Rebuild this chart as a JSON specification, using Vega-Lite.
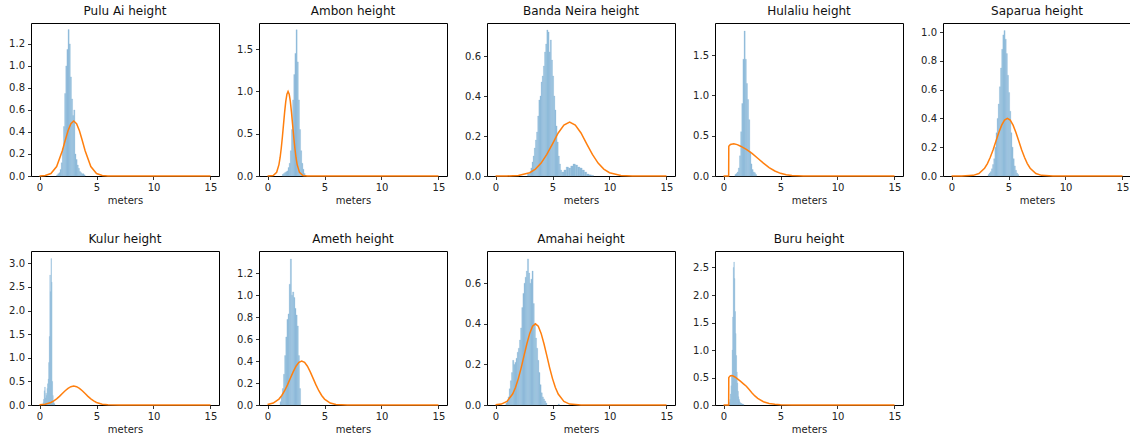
{
  "$schema": "https://vega.github.io/schema/vega-lite/v6.json",
  "padding": {"left": 8, "top": 4, "right": 0, "bottom": 0},
  "background": "white",
  "datasets": {
    "hist": [
      {"site":"Pulu Ai","x":1.5,"x2":1.6,"y":0.01},{"site":"Pulu Ai","x":1.6,"x2":1.7,"y":0.02},{"site":"Pulu Ai","x":1.7,"x2":1.8,"y":0.03},{"site":"Pulu Ai","x":1.8,"x2":1.9,"y":0.06},{"site":"Pulu Ai","x":1.9,"x2":2.0,"y":0.12},{"site":"Pulu Ai","x":2.0,"x2":2.1,"y":0.25},{"site":"Pulu Ai","x":2.1,"x2":2.2,"y":0.45},{"site":"Pulu Ai","x":2.2,"x2":2.3,"y":0.75},{"site":"Pulu Ai","x":2.3,"x2":2.4,"y":1.0},{"site":"Pulu Ai","x":2.4,"x2":2.5,"y":1.15},{"site":"Pulu Ai","x":2.5,"x2":2.6,"y":1.33},{"site":"Pulu Ai","x":2.6,"x2":2.7,"y":1.2},{"site":"Pulu Ai","x":2.7,"x2":2.8,"y":0.9},{"site":"Pulu Ai","x":2.8,"x2":2.9,"y":0.7},{"site":"Pulu Ai","x":2.9,"x2":3.0,"y":0.55},{"site":"Pulu Ai","x":3.0,"x2":3.1,"y":0.6},{"site":"Pulu Ai","x":3.1,"x2":3.2,"y":0.2},{"site":"Pulu Ai","x":3.2,"x2":3.3,"y":0.15},{"site":"Pulu Ai","x":3.3,"x2":3.4,"y":0.1},{"site":"Pulu Ai","x":3.4,"x2":3.5,"y":0.07},{"site":"Pulu Ai","x":3.5,"x2":3.6,"y":0.04},{"site":"Pulu Ai","x":3.6,"x2":3.7,"y":0.03},{"site":"Pulu Ai","x":3.7,"x2":3.8,"y":0.02},{"site":"Pulu Ai","x":3.8,"x2":3.9,"y":0.02},{"site":"Pulu Ai","x":3.9,"x2":4.0,"y":0.01},
      {"site":"Ambon","x":1.3,"x2":1.4,"y":0.02},{"site":"Ambon","x":1.4,"x2":1.5,"y":0.03},{"site":"Ambon","x":1.5,"x2":1.6,"y":0.04},{"site":"Ambon","x":1.6,"x2":1.7,"y":0.05},{"site":"Ambon","x":1.7,"x2":1.8,"y":0.06},{"site":"Ambon","x":1.8,"x2":1.9,"y":0.1},{"site":"Ambon","x":1.9,"x2":2.0,"y":0.15},{"site":"Ambon","x":2.0,"x2":2.1,"y":0.3},{"site":"Ambon","x":2.1,"x2":2.2,"y":0.55},{"site":"Ambon","x":2.2,"x2":2.3,"y":0.9},{"site":"Ambon","x":2.3,"x2":2.4,"y":1.2},{"site":"Ambon","x":2.4,"x2":2.5,"y":1.45},{"site":"Ambon","x":2.5,"x2":2.6,"y":1.73},{"site":"Ambon","x":2.6,"x2":2.7,"y":1.35},{"site":"Ambon","x":2.7,"x2":2.8,"y":0.9},{"site":"Ambon","x":2.8,"x2":2.9,"y":0.55},{"site":"Ambon","x":2.9,"x2":3.0,"y":0.3},{"site":"Ambon","x":3.0,"x2":3.1,"y":0.15},{"site":"Ambon","x":3.1,"x2":3.2,"y":0.08},{"site":"Ambon","x":3.2,"x2":3.3,"y":0.03},
      {"site":"Banda Neira","x":2.8,"x2":3.0,"y":0.01},{"site":"Banda Neira","x":3.0,"x2":3.1,"y":0.02},{"site":"Banda Neira","x":3.1,"x2":3.2,"y":0.04},{"site":"Banda Neira","x":3.2,"x2":3.3,"y":0.07},{"site":"Banda Neira","x":3.3,"x2":3.4,"y":0.1},{"site":"Banda Neira","x":3.4,"x2":3.5,"y":0.14},{"site":"Banda Neira","x":3.5,"x2":3.6,"y":0.18},{"site":"Banda Neira","x":3.6,"x2":3.7,"y":0.22},{"site":"Banda Neira","x":3.7,"x2":3.8,"y":0.3},{"site":"Banda Neira","x":3.8,"x2":3.9,"y":0.38},{"site":"Banda Neira","x":3.9,"x2":4.0,"y":0.4},{"site":"Banda Neira","x":4.0,"x2":4.1,"y":0.47},{"site":"Banda Neira","x":4.1,"x2":4.2,"y":0.5},{"site":"Banda Neira","x":4.2,"x2":4.3,"y":0.55},{"site":"Banda Neira","x":4.3,"x2":4.4,"y":0.62},{"site":"Banda Neira","x":4.4,"x2":4.5,"y":0.66},{"site":"Banda Neira","x":4.5,"x2":4.6,"y":0.73},{"site":"Banda Neira","x":4.6,"x2":4.7,"y":0.72},{"site":"Banda Neira","x":4.7,"x2":4.8,"y":0.62},{"site":"Banda Neira","x":4.8,"x2":4.9,"y":0.68},{"site":"Banda Neira","x":4.9,"x2":5.0,"y":0.58},{"site":"Banda Neira","x":5.0,"x2":5.1,"y":0.5},{"site":"Banda Neira","x":5.1,"x2":5.2,"y":0.4},{"site":"Banda Neira","x":5.2,"x2":5.3,"y":0.33},{"site":"Banda Neira","x":5.3,"x2":5.4,"y":0.25},{"site":"Banda Neira","x":5.4,"x2":5.5,"y":0.17},{"site":"Banda Neira","x":5.5,"x2":5.6,"y":0.1},{"site":"Banda Neira","x":5.6,"x2":5.7,"y":0.06},{"site":"Banda Neira","x":5.7,"x2":5.8,"y":0.03},{"site":"Banda Neira","x":5.8,"x2":5.9,"y":0.02},{"site":"Banda Neira","x":5.9,"x2":6.0,"y":0.02},{"site":"Banda Neira","x":6.0,"x2":6.2,"y":0.03},{"site":"Banda Neira","x":6.2,"x2":6.4,"y":0.045},{"site":"Banda Neira","x":6.4,"x2":6.6,"y":0.04},{"site":"Banda Neira","x":6.6,"x2":6.8,"y":0.05},{"site":"Banda Neira","x":6.8,"x2":7.0,"y":0.06},{"site":"Banda Neira","x":7.0,"x2":7.2,"y":0.055},{"site":"Banda Neira","x":7.2,"x2":7.4,"y":0.045},{"site":"Banda Neira","x":7.4,"x2":7.6,"y":0.04},{"site":"Banda Neira","x":7.6,"x2":7.8,"y":0.03},{"site":"Banda Neira","x":7.8,"x2":8.0,"y":0.02},{"site":"Banda Neira","x":8.0,"x2":8.2,"y":0.01},{"site":"Banda Neira","x":8.2,"x2":8.4,"y":0.006},{"site":"Banda Neira","x":8.4,"x2":8.6,"y":0.003},
      {"site":"Hulaliu","x":1.0,"x2":1.1,"y":0.02},{"site":"Hulaliu","x":1.1,"x2":1.2,"y":0.03},{"site":"Hulaliu","x":1.2,"x2":1.3,"y":0.05},{"site":"Hulaliu","x":1.3,"x2":1.4,"y":0.1},{"site":"Hulaliu","x":1.4,"x2":1.5,"y":0.25},{"site":"Hulaliu","x":1.5,"x2":1.6,"y":0.55},{"site":"Hulaliu","x":1.6,"x2":1.7,"y":0.9},{"site":"Hulaliu","x":1.7,"x2":1.8,"y":1.45},{"site":"Hulaliu","x":1.8,"x2":1.9,"y":1.8},{"site":"Hulaliu","x":1.9,"x2":2.0,"y":1.45},{"site":"Hulaliu","x":2.0,"x2":2.1,"y":1.15},{"site":"Hulaliu","x":2.1,"x2":2.2,"y":0.95},{"site":"Hulaliu","x":2.2,"x2":2.3,"y":0.7},{"site":"Hulaliu","x":2.3,"x2":2.4,"y":0.3},{"site":"Hulaliu","x":2.4,"x2":2.5,"y":0.15},{"site":"Hulaliu","x":2.5,"x2":2.6,"y":0.08},{"site":"Hulaliu","x":2.6,"x2":2.7,"y":0.05},{"site":"Hulaliu","x":2.7,"x2":2.8,"y":0.04},{"site":"Hulaliu","x":2.8,"x2":2.9,"y":0.02},
      {"site":"Saparua","x":3.2,"x2":3.3,"y":0.01},{"site":"Saparua","x":3.3,"x2":3.4,"y":0.02},{"site":"Saparua","x":3.4,"x2":3.5,"y":0.03},{"site":"Saparua","x":3.5,"x2":3.6,"y":0.05},{"site":"Saparua","x":3.6,"x2":3.7,"y":0.08},{"site":"Saparua","x":3.7,"x2":3.8,"y":0.12},{"site":"Saparua","x":3.8,"x2":3.9,"y":0.2},{"site":"Saparua","x":3.9,"x2":4.0,"y":0.3},{"site":"Saparua","x":4.0,"x2":4.1,"y":0.4},{"site":"Saparua","x":4.1,"x2":4.2,"y":0.5},{"site":"Saparua","x":4.2,"x2":4.3,"y":0.62},{"site":"Saparua","x":4.3,"x2":4.4,"y":0.75},{"site":"Saparua","x":4.4,"x2":4.5,"y":0.88},{"site":"Saparua","x":4.5,"x2":4.6,"y":0.98},{"site":"Saparua","x":4.6,"x2":4.7,"y":1.01},{"site":"Saparua","x":4.7,"x2":4.8,"y":0.95},{"site":"Saparua","x":4.8,"x2":4.9,"y":0.85},{"site":"Saparua","x":4.9,"x2":5.0,"y":0.7},{"site":"Saparua","x":5.0,"x2":5.1,"y":0.58},{"site":"Saparua","x":5.1,"x2":5.2,"y":0.45},{"site":"Saparua","x":5.2,"x2":5.3,"y":0.3},{"site":"Saparua","x":5.3,"x2":5.4,"y":0.2},{"site":"Saparua","x":5.4,"x2":5.5,"y":0.12},{"site":"Saparua","x":5.5,"x2":5.6,"y":0.07},{"site":"Saparua","x":5.6,"x2":5.7,"y":0.04},{"site":"Saparua","x":5.7,"x2":5.8,"y":0.02},{"site":"Saparua","x":5.8,"x2":5.9,"y":0.01},
      {"site":"Kulur","x":0.3,"x2":0.35,"y":0.05},{"site":"Kulur","x":0.35,"x2":0.4,"y":0.12},{"site":"Kulur","x":0.4,"x2":0.45,"y":0.3},{"site":"Kulur","x":0.45,"x2":0.5,"y":0.38},{"site":"Kulur","x":0.5,"x2":0.55,"y":0.15},{"site":"Kulur","x":0.55,"x2":0.6,"y":0.25},{"site":"Kulur","x":0.6,"x2":0.65,"y":0.2},{"site":"Kulur","x":0.65,"x2":0.7,"y":0.35},{"site":"Kulur","x":0.7,"x2":0.75,"y":0.45},{"site":"Kulur","x":0.75,"x2":0.8,"y":0.55},{"site":"Kulur","x":0.8,"x2":0.85,"y":0.9},{"site":"Kulur","x":0.85,"x2":0.9,"y":1.45},{"site":"Kulur","x":0.9,"x2":0.95,"y":2.75},{"site":"Kulur","x":0.95,"x2":1.0,"y":2.4},{"site":"Kulur","x":1.0,"x2":1.05,"y":3.1},{"site":"Kulur","x":1.05,"x2":1.1,"y":2.6},{"site":"Kulur","x":1.1,"x2":1.15,"y":0.5},{"site":"Kulur","x":1.15,"x2":1.2,"y":0.2},{"site":"Kulur","x":1.2,"x2":1.25,"y":0.08},{"site":"Kulur","x":1.25,"x2":1.3,"y":0.04},{"site":"Kulur","x":1.3,"x2":1.35,"y":0.02},
      {"site":"Ameth","x":1.1,"x2":1.2,"y":0.03},{"site":"Ameth","x":1.2,"x2":1.3,"y":0.08},{"site":"Ameth","x":1.3,"x2":1.4,"y":0.15},{"site":"Ameth","x":1.4,"x2":1.5,"y":0.28},{"site":"Ameth","x":1.5,"x2":1.6,"y":0.45},{"site":"Ameth","x":1.6,"x2":1.7,"y":0.62},{"site":"Ameth","x":1.7,"x2":1.8,"y":0.78},{"site":"Ameth","x":1.8,"x2":1.9,"y":0.83},{"site":"Ameth","x":1.9,"x2":2.0,"y":1.1},{"site":"Ameth","x":2.0,"x2":2.1,"y":1.33},{"site":"Ameth","x":2.1,"x2":2.2,"y":1.0},{"site":"Ameth","x":2.2,"x2":2.3,"y":1.03},{"site":"Ameth","x":2.3,"x2":2.4,"y":0.98},{"site":"Ameth","x":2.4,"x2":2.5,"y":0.88},{"site":"Ameth","x":2.5,"x2":2.6,"y":0.82},{"site":"Ameth","x":2.6,"x2":2.7,"y":0.72},{"site":"Ameth","x":2.7,"x2":2.8,"y":0.45},{"site":"Ameth","x":2.8,"x2":2.9,"y":0.15},
      {"site":"Amahai","x":0.9,"x2":1.0,"y":0.01},{"site":"Amahai","x":1.0,"x2":1.1,"y":0.02},{"site":"Amahai","x":1.1,"x2":1.2,"y":0.04},{"site":"Amahai","x":1.2,"x2":1.3,"y":0.08},{"site":"Amahai","x":1.3,"x2":1.4,"y":0.12},{"site":"Amahai","x":1.4,"x2":1.5,"y":0.16},{"site":"Amahai","x":1.5,"x2":1.6,"y":0.22},{"site":"Amahai","x":1.6,"x2":1.7,"y":0.2},{"site":"Amahai","x":1.7,"x2":1.8,"y":0.21},{"site":"Amahai","x":1.8,"x2":1.9,"y":0.23},{"site":"Amahai","x":1.9,"x2":2.0,"y":0.26},{"site":"Amahai","x":2.0,"x2":2.1,"y":0.28},{"site":"Amahai","x":2.1,"x2":2.2,"y":0.32},{"site":"Amahai","x":2.2,"x2":2.3,"y":0.38},{"site":"Amahai","x":2.3,"x2":2.4,"y":0.48},{"site":"Amahai","x":2.4,"x2":2.5,"y":0.55},{"site":"Amahai","x":2.5,"x2":2.6,"y":0.6},{"site":"Amahai","x":2.6,"x2":2.7,"y":0.63},{"site":"Amahai","x":2.7,"x2":2.8,"y":0.66},{"site":"Amahai","x":2.8,"x2":2.9,"y":0.72},{"site":"Amahai","x":2.9,"x2":3.0,"y":0.65},{"site":"Amahai","x":3.0,"x2":3.1,"y":0.6},{"site":"Amahai","x":3.1,"x2":3.2,"y":0.62},{"site":"Amahai","x":3.2,"x2":3.3,"y":0.66},{"site":"Amahai","x":3.3,"x2":3.4,"y":0.5},{"site":"Amahai","x":3.4,"x2":3.5,"y":0.4},{"site":"Amahai","x":3.5,"x2":3.6,"y":0.33},{"site":"Amahai","x":3.6,"x2":3.7,"y":0.28},{"site":"Amahai","x":3.7,"x2":3.8,"y":0.22},{"site":"Amahai","x":3.8,"x2":3.9,"y":0.16},{"site":"Amahai","x":3.9,"x2":4.0,"y":0.1},{"site":"Amahai","x":4.0,"x2":4.1,"y":0.06},{"site":"Amahai","x":4.1,"x2":4.2,"y":0.04},{"site":"Amahai","x":4.2,"x2":4.3,"y":0.03},{"site":"Amahai","x":4.3,"x2":4.4,"y":0.02},{"site":"Amahai","x":4.4,"x2":4.5,"y":0.01},{"site":"Amahai","x":5.5,"x2":5.6,"y":0.005},
      {"site":"Buru","x":0.5,"x2":0.55,"y":0.05},{"site":"Buru","x":0.55,"x2":0.6,"y":0.1},{"site":"Buru","x":0.6,"x2":0.65,"y":0.2},{"site":"Buru","x":0.65,"x2":0.7,"y":0.35},{"site":"Buru","x":0.7,"x2":0.75,"y":0.55},{"site":"Buru","x":0.75,"x2":0.8,"y":1.0},{"site":"Buru","x":0.8,"x2":0.85,"y":1.6},{"site":"Buru","x":0.85,"x2":0.9,"y":2.5},{"site":"Buru","x":0.9,"x2":0.95,"y":2.6},{"site":"Buru","x":0.95,"x2":1.0,"y":2.3},{"site":"Buru","x":1.0,"x2":1.05,"y":1.7},{"site":"Buru","x":1.05,"x2":1.1,"y":1.3},{"site":"Buru","x":1.1,"x2":1.15,"y":0.9},{"site":"Buru","x":1.15,"x2":1.2,"y":0.6},{"site":"Buru","x":1.2,"x2":1.25,"y":0.4},{"site":"Buru","x":1.25,"x2":1.3,"y":0.25},{"site":"Buru","x":1.3,"x2":1.35,"y":0.15},{"site":"Buru","x":1.35,"x2":1.4,"y":0.1},{"site":"Buru","x":1.4,"x2":1.45,"y":0.06},{"site":"Buru","x":1.45,"x2":1.5,"y":0.04},{"site":"Buru","x":1.5,"x2":1.6,"y":0.03},{"site":"Buru","x":1.6,"x2":1.7,"y":0.02},{"site":"Buru","x":1.7,"x2":1.8,"y":0.01}
    ],
    "curve": [
      {"site":"Pulu Ai","x":0,"y":0.0004},{"site":"Pulu Ai","x":0.5,"y":0.0038},{"site":"Pulu Ai","x":1,"y":0.022},{"site":"Pulu Ai","x":1.5,"y":0.086},{"site":"Pulu Ai","x":2,"y":0.229},{"site":"Pulu Ai","x":2.25,"y":0.322},{"site":"Pulu Ai","x":2.5,"y":0.411},{"site":"Pulu Ai","x":2.75,"y":0.476},{"site":"Pulu Ai","x":3,"y":0.5},{"site":"Pulu Ai","x":3.25,"y":0.476},{"site":"Pulu Ai","x":3.5,"y":0.411},{"site":"Pulu Ai","x":3.75,"y":0.322},{"site":"Pulu Ai","x":4,"y":0.229},{"site":"Pulu Ai","x":4.5,"y":0.086},{"site":"Pulu Ai","x":5,"y":0.022},{"site":"Pulu Ai","x":5.5,"y":0.0038},{"site":"Pulu Ai","x":6,"y":0.0004},{"site":"Pulu Ai","x":7,"y":0},{"site":"Pulu Ai","x":15,"y":0},
      {"site":"Ambon","x":0,"y":0},{"site":"Ambon","x":0.5,"y":0.005},{"site":"Ambon","x":0.8,"y":0.044},{"site":"Ambon","x":1.0,"y":0.135},{"site":"Ambon","x":1.1,"y":0.216},{"site":"Ambon","x":1.2,"y":0.325},{"site":"Ambon","x":1.3,"y":0.458},{"site":"Ambon","x":1.4,"y":0.607},{"site":"Ambon","x":1.5,"y":0.755},{"site":"Ambon","x":1.6,"y":0.882},{"site":"Ambon","x":1.7,"y":0.969},{"site":"Ambon","x":1.8,"y":1.0},{"site":"Ambon","x":1.9,"y":0.969},{"site":"Ambon","x":2.0,"y":0.882},{"site":"Ambon","x":2.1,"y":0.755},{"site":"Ambon","x":2.2,"y":0.607},{"site":"Ambon","x":2.3,"y":0.458},{"site":"Ambon","x":2.4,"y":0.325},{"site":"Ambon","x":2.5,"y":0.216},{"site":"Ambon","x":2.6,"y":0.135},{"site":"Ambon","x":2.8,"y":0.044},{"site":"Ambon","x":3.1,"y":0.005},{"site":"Ambon","x":3.5,"y":0.0001},{"site":"Ambon","x":15,"y":0},
      {"site":"Banda Neira","x":0,"y":0},{"site":"Banda Neira","x":1,"y":0.0003},{"site":"Banda Neira","x":2,"y":0.0027},{"site":"Banda Neira","x":3,"y":0.0165},{"site":"Banda Neira","x":3.5,"y":0.0346},{"site":"Banda Neira","x":4,"y":0.0648},{"site":"Banda Neira","x":4.5,"y":0.108},{"site":"Banda Neira","x":5,"y":0.161},{"site":"Banda Neira","x":5.5,"y":0.215},{"site":"Banda Neira","x":6,"y":0.255},{"site":"Banda Neira","x":6.5,"y":0.27},{"site":"Banda Neira","x":7,"y":0.255},{"site":"Banda Neira","x":7.5,"y":0.215},{"site":"Banda Neira","x":8,"y":0.161},{"site":"Banda Neira","x":8.5,"y":0.108},{"site":"Banda Neira","x":9,"y":0.0648},{"site":"Banda Neira","x":9.5,"y":0.0346},{"site":"Banda Neira","x":10,"y":0.0165},{"site":"Banda Neira","x":11,"y":0.0027},{"site":"Banda Neira","x":12,"y":0.0003},{"site":"Banda Neira","x":13,"y":0},{"site":"Banda Neira","x":15,"y":0},
      {"site":"Hulaliu","x":0,"y":0},{"site":"Hulaliu","x":0.45,"y":0},{"site":"Hulaliu","x":0.46,"y":0.37},{"site":"Hulaliu","x":0.6,"y":0.392},{"site":"Hulaliu","x":0.9,"y":0.4},{"site":"Hulaliu","x":1.2,"y":0.39},{"site":"Hulaliu","x":1.5,"y":0.37},{"site":"Hulaliu","x":2.0,"y":0.33},{"site":"Hulaliu","x":2.5,"y":0.28},{"site":"Hulaliu","x":3.0,"y":0.22},{"site":"Hulaliu","x":3.5,"y":0.16},{"site":"Hulaliu","x":4.0,"y":0.105},{"site":"Hulaliu","x":4.5,"y":0.062},{"site":"Hulaliu","x":5.0,"y":0.033},{"site":"Hulaliu","x":5.5,"y":0.016},{"site":"Hulaliu","x":6.0,"y":0.007},{"site":"Hulaliu","x":7.0,"y":0.001},{"site":"Hulaliu","x":8.0,"y":0},{"site":"Hulaliu","x":15,"y":0},
      {"site":"Saparua","x":0,"y":0},{"site":"Saparua","x":0.9,"y":0.0001},{"site":"Saparua","x":1.9,"y":0.0044},{"site":"Saparua","x":2.4,"y":0.0176},{"site":"Saparua","x":2.9,"y":0.054},{"site":"Saparua","x":3.15,"y":0.0865},{"site":"Saparua","x":3.4,"y":0.13},{"site":"Saparua","x":3.65,"y":0.183},{"site":"Saparua","x":3.9,"y":0.243},{"site":"Saparua","x":4.15,"y":0.302},{"site":"Saparua","x":4.4,"y":0.353},{"site":"Saparua","x":4.65,"y":0.388},{"site":"Saparua","x":4.9,"y":0.4},{"site":"Saparua","x":5.15,"y":0.388},{"site":"Saparua","x":5.4,"y":0.353},{"site":"Saparua","x":5.65,"y":0.302},{"site":"Saparua","x":5.9,"y":0.243},{"site":"Saparua","x":6.15,"y":0.183},{"site":"Saparua","x":6.4,"y":0.13},{"site":"Saparua","x":6.65,"y":0.0865},{"site":"Saparua","x":6.9,"y":0.054},{"site":"Saparua","x":7.4,"y":0.0176},{"site":"Saparua","x":7.9,"y":0.0044},{"site":"Saparua","x":8.9,"y":0.0001},{"site":"Saparua","x":15,"y":0},
      {"site":"Kulur","x":0,"y":0.0044},{"site":"Kulur","x":0.5,"y":0.0176},{"site":"Kulur","x":1,"y":0.054},{"site":"Kulur","x":1.25,"y":0.0865},{"site":"Kulur","x":1.5,"y":0.13},{"site":"Kulur","x":1.75,"y":0.183},{"site":"Kulur","x":2,"y":0.243},{"site":"Kulur","x":2.25,"y":0.302},{"site":"Kulur","x":2.5,"y":0.353},{"site":"Kulur","x":2.75,"y":0.388},{"site":"Kulur","x":3,"y":0.4},{"site":"Kulur","x":3.25,"y":0.388},{"site":"Kulur","x":3.5,"y":0.353},{"site":"Kulur","x":3.75,"y":0.302},{"site":"Kulur","x":4,"y":0.243},{"site":"Kulur","x":4.25,"y":0.183},{"site":"Kulur","x":4.5,"y":0.13},{"site":"Kulur","x":4.75,"y":0.0865},{"site":"Kulur","x":5,"y":0.054},{"site":"Kulur","x":5.5,"y":0.0176},{"site":"Kulur","x":6,"y":0.0044},{"site":"Kulur","x":7,"y":0.0001},{"site":"Kulur","x":15,"y":0},
      {"site":"Ameth","x":0,"y":0.0044},{"site":"Ameth","x":0.5,"y":0.0176},{"site":"Ameth","x":1,"y":0.054},{"site":"Ameth","x":1.25,"y":0.0865},{"site":"Ameth","x":1.5,"y":0.13},{"site":"Ameth","x":1.75,"y":0.183},{"site":"Ameth","x":2,"y":0.243},{"site":"Ameth","x":2.25,"y":0.302},{"site":"Ameth","x":2.5,"y":0.353},{"site":"Ameth","x":2.75,"y":0.388},{"site":"Ameth","x":3,"y":0.4},{"site":"Ameth","x":3.25,"y":0.388},{"site":"Ameth","x":3.5,"y":0.353},{"site":"Ameth","x":3.75,"y":0.302},{"site":"Ameth","x":4,"y":0.243},{"site":"Ameth","x":4.25,"y":0.183},{"site":"Ameth","x":4.5,"y":0.13},{"site":"Ameth","x":4.75,"y":0.0865},{"site":"Ameth","x":5,"y":0.054},{"site":"Ameth","x":5.5,"y":0.0176},{"site":"Ameth","x":6,"y":0.0044},{"site":"Ameth","x":7,"y":0.0001},{"site":"Ameth","x":15,"y":0},
      {"site":"Amahai","x":0,"y":0.0009},{"site":"Amahai","x":0.5,"y":0.0044},{"site":"Amahai","x":1,"y":0.0176},{"site":"Amahai","x":1.5,"y":0.054},{"site":"Amahai","x":1.75,"y":0.0865},{"site":"Amahai","x":2,"y":0.13},{"site":"Amahai","x":2.25,"y":0.183},{"site":"Amahai","x":2.5,"y":0.243},{"site":"Amahai","x":2.75,"y":0.302},{"site":"Amahai","x":3,"y":0.353},{"site":"Amahai","x":3.25,"y":0.388},{"site":"Amahai","x":3.5,"y":0.4},{"site":"Amahai","x":3.75,"y":0.388},{"site":"Amahai","x":4,"y":0.353},{"site":"Amahai","x":4.25,"y":0.302},{"site":"Amahai","x":4.5,"y":0.243},{"site":"Amahai","x":4.75,"y":0.183},{"site":"Amahai","x":5,"y":0.13},{"site":"Amahai","x":5.25,"y":0.0865},{"site":"Amahai","x":5.5,"y":0.054},{"site":"Amahai","x":6,"y":0.0176},{"site":"Amahai","x":6.5,"y":0.0044},{"site":"Amahai","x":7.5,"y":0.0001},{"site":"Amahai","x":15,"y":0},
      {"site":"Buru","x":0,"y":0},{"site":"Buru","x":0.45,"y":0},{"site":"Buru","x":0.46,"y":0.5},{"site":"Buru","x":0.6,"y":0.53},{"site":"Buru","x":0.8,"y":0.53},{"site":"Buru","x":1.0,"y":0.51},{"site":"Buru","x":1.25,"y":0.47},{"site":"Buru","x":1.5,"y":0.43},{"site":"Buru","x":1.75,"y":0.385},{"site":"Buru","x":2.0,"y":0.34},{"site":"Buru","x":2.25,"y":0.28},{"site":"Buru","x":2.5,"y":0.22},{"site":"Buru","x":2.75,"y":0.165},{"site":"Buru","x":3.0,"y":0.12},{"site":"Buru","x":3.5,"y":0.06},{"site":"Buru","x":4.0,"y":0.028},{"site":"Buru","x":4.5,"y":0.012},{"site":"Buru","x":5.0,"y":0.005},{"site":"Buru","x":6.0,"y":0.001},{"site":"Buru","x":7.0,"y":0},{"site":"Buru","x":15,"y":0}
    ]
  },
  "columns": 5,
  "spacing": {"row": 26, "column": 16},
  "concat": [
    {"title": "Pulu Ai height", "width": 188, "height": 153,
     "encoding": {"x": {"field": "x", "type": "quantitative", "scale": {"domain": [-0.75, 15.75], "nice": false, "zero": false}, "axis": {"values": [0, 5, 10, 15], "title": "meters"}},
                  "y": {"field": "y", "type": "quantitative", "scale": {"domain": [0, 1.39], "nice": false}, "axis": {"values": [0, 0.2, 0.4, 0.6, 0.8, 1.0, 1.2], "format": ".1f", "title": null}}},
     "layer": [
       {"data": {"name": "hist"}, "transform": [{"filter": "datum.site === 'Pulu Ai'"}], "mark": {"type": "rect", "fill": "#8fbbd9", "stroke": "#8fbbd9", "strokeWidth": 0.3}, "encoding": {"x2": {"field": "x2"}, "y2": {"datum": 0}}},
       {"data": {"name": "curve"}, "transform": [{"filter": "datum.site === 'Pulu Ai'"}], "mark": {"type": "line", "color": "#ff7f0e", "strokeWidth": 1.5}, "encoding": {}}
     ]},
    {"title": "Ambon height", "width": 188, "height": 153,
     "encoding": {"x": {"field": "x", "type": "quantitative", "scale": {"domain": [-0.75, 15.75], "nice": false, "zero": false}, "axis": {"values": [0, 5, 10, 15], "title": "meters"}},
                  "y": {"field": "y", "type": "quantitative", "scale": {"domain": [0, 1.81], "nice": false}, "axis": {"values": [0, 0.5, 1.0, 1.5], "format": ".1f", "title": null}}},
     "layer": [
       {"data": {"name": "hist"}, "transform": [{"filter": "datum.site === 'Ambon'"}], "mark": {"type": "rect", "fill": "#8fbbd9", "stroke": "#8fbbd9", "strokeWidth": 0.3}, "encoding": {"x2": {"field": "x2"}, "y2": {"datum": 0}}},
       {"data": {"name": "curve"}, "transform": [{"filter": "datum.site === 'Ambon'"}], "mark": {"type": "line", "color": "#ff7f0e", "strokeWidth": 1.5}, "encoding": {}}
     ]},
    {"title": "Banda Neira height", "width": 188, "height": 153,
     "encoding": {"x": {"field": "x", "type": "quantitative", "scale": {"domain": [-0.75, 15.75], "nice": false, "zero": false}, "axis": {"values": [0, 5, 10, 15], "title": "meters"}},
                  "y": {"field": "y", "type": "quantitative", "scale": {"domain": [0, 0.765], "nice": false}, "axis": {"values": [0, 0.2, 0.4, 0.6], "format": ".1f", "title": null}}},
     "layer": [
       {"data": {"name": "hist"}, "transform": [{"filter": "datum.site === 'Banda Neira'"}], "mark": {"type": "rect", "fill": "#8fbbd9", "stroke": "#8fbbd9", "strokeWidth": 0.3}, "encoding": {"x2": {"field": "x2"}, "y2": {"datum": 0}}},
       {"data": {"name": "curve"}, "transform": [{"filter": "datum.site === 'Banda Neira'"}], "mark": {"type": "line", "color": "#ff7f0e", "strokeWidth": 1.5}, "encoding": {}}
     ]},
    {"title": "Hulaliu height", "width": 188, "height": 153,
     "encoding": {"x": {"field": "x", "type": "quantitative", "scale": {"domain": [-0.75, 15.75], "nice": false, "zero": false}, "axis": {"values": [0, 5, 10, 15], "title": "meters"}},
                  "y": {"field": "y", "type": "quantitative", "scale": {"domain": [0, 1.9], "nice": false}, "axis": {"values": [0, 0.5, 1.0, 1.5], "format": ".1f", "title": null}}},
     "layer": [
       {"data": {"name": "hist"}, "transform": [{"filter": "datum.site === 'Hulaliu'"}], "mark": {"type": "rect", "fill": "#8fbbd9", "stroke": "#8fbbd9", "strokeWidth": 0.3}, "encoding": {"x2": {"field": "x2"}, "y2": {"datum": 0}}},
       {"data": {"name": "curve"}, "transform": [{"filter": "datum.site === 'Hulaliu'"}], "mark": {"type": "line", "color": "#ff7f0e", "strokeWidth": 1.5}, "encoding": {}}
     ]},
    {"title": "Saparua height", "width": 188, "height": 153,
     "encoding": {"x": {"field": "x", "type": "quantitative", "scale": {"domain": [-0.75, 15.75], "nice": false, "zero": false}, "axis": {"values": [0, 5, 10, 15], "title": "meters"}},
                  "y": {"field": "y", "type": "quantitative", "scale": {"domain": [0, 1.0625], "nice": false}, "axis": {"values": [0, 0.2, 0.4, 0.6, 0.8, 1.0], "format": ".1f", "title": null}}},
     "layer": [
       {"data": {"name": "hist"}, "transform": [{"filter": "datum.site === 'Saparua'"}], "mark": {"type": "rect", "fill": "#8fbbd9", "stroke": "#8fbbd9", "strokeWidth": 0.3}, "encoding": {"x2": {"field": "x2"}, "y2": {"datum": 0}}},
       {"data": {"name": "curve"}, "transform": [{"filter": "datum.site === 'Saparua'"}], "mark": {"type": "line", "color": "#ff7f0e", "strokeWidth": 1.5}, "encoding": {}}
     ]},
    {"title": "Kulur height", "width": 188, "height": 154,
     "encoding": {"x": {"field": "x", "type": "quantitative", "scale": {"domain": [-0.75, 15.75], "nice": false, "zero": false}, "axis": {"values": [0, 5, 10, 15], "title": "meters"}},
                  "y": {"field": "y", "type": "quantitative", "scale": {"domain": [0, 3.26], "nice": false}, "axis": {"values": [0, 0.5, 1.0, 1.5, 2.0, 2.5, 3.0], "format": ".1f", "title": null}}},
     "layer": [
       {"data": {"name": "hist"}, "transform": [{"filter": "datum.site === 'Kulur'"}], "mark": {"type": "rect", "fill": "#8fbbd9", "stroke": "#8fbbd9", "strokeWidth": 0.3}, "encoding": {"x2": {"field": "x2"}, "y2": {"datum": 0}}},
       {"data": {"name": "curve"}, "transform": [{"filter": "datum.site === 'Kulur'"}], "mark": {"type": "line", "color": "#ff7f0e", "strokeWidth": 1.5}, "encoding": {}}
     ]},
    {"title": "Ameth height", "width": 188, "height": 154,
     "encoding": {"x": {"field": "x", "type": "quantitative", "scale": {"domain": [-0.75, 15.75], "nice": false, "zero": false}, "axis": {"values": [0, 5, 10, 15], "title": "meters"}},
                  "y": {"field": "y", "type": "quantitative", "scale": {"domain": [0, 1.403], "nice": false}, "axis": {"values": [0, 0.2, 0.4, 0.6, 0.8, 1.0, 1.2], "format": ".1f", "title": null}}},
     "layer": [
       {"data": {"name": "hist"}, "transform": [{"filter": "datum.site === 'Ameth'"}], "mark": {"type": "rect", "fill": "#8fbbd9", "stroke": "#8fbbd9", "strokeWidth": 0.3}, "encoding": {"x2": {"field": "x2"}, "y2": {"datum": 0}}},
       {"data": {"name": "curve"}, "transform": [{"filter": "datum.site === 'Ameth'"}], "mark": {"type": "line", "color": "#ff7f0e", "strokeWidth": 1.5}, "encoding": {}}
     ]},
    {"title": "Amahai height", "width": 188, "height": 154,
     "encoding": {"x": {"field": "x", "type": "quantitative", "scale": {"domain": [-0.75, 15.75], "nice": false, "zero": false}, "axis": {"values": [0, 5, 10, 15], "title": "meters"}},
                  "y": {"field": "y", "type": "quantitative", "scale": {"domain": [0, 0.759], "nice": false}, "axis": {"values": [0, 0.2, 0.4, 0.6], "format": ".1f", "title": null}}},
     "layer": [
       {"data": {"name": "hist"}, "transform": [{"filter": "datum.site === 'Amahai'"}], "mark": {"type": "rect", "fill": "#8fbbd9", "stroke": "#8fbbd9", "strokeWidth": 0.3}, "encoding": {"x2": {"field": "x2"}, "y2": {"datum": 0}}},
       {"data": {"name": "curve"}, "transform": [{"filter": "datum.site === 'Amahai'"}], "mark": {"type": "line", "color": "#ff7f0e", "strokeWidth": 1.5}, "encoding": {}}
     ]},
    {"title": "Buru height", "width": 188, "height": 154,
     "encoding": {"x": {"field": "x", "type": "quantitative", "scale": {"domain": [-0.75, 15.75], "nice": false, "zero": false}, "axis": {"values": [0, 5, 10, 15], "title": "meters"}},
                  "y": {"field": "y", "type": "quantitative", "scale": {"domain": [0, 2.8], "nice": false}, "axis": {"values": [0, 0.5, 1.0, 1.5, 2.0, 2.5], "format": ".1f", "title": null}}},
     "layer": [
       {"data": {"name": "hist"}, "transform": [{"filter": "datum.site === 'Buru'"}], "mark": {"type": "rect", "fill": "#8fbbd9", "stroke": "#8fbbd9", "strokeWidth": 0.3}, "encoding": {"x2": {"field": "x2"}, "y2": {"datum": 0}}},
       {"data": {"name": "curve"}, "transform": [{"filter": "datum.site === 'Buru'"}], "mark": {"type": "line", "color": "#ff7f0e", "strokeWidth": 1.5}, "encoding": {}}
     ]}
  ],
  "config": {
    "font": "DejaVu Sans",
    "view": {"stroke": "black", "strokeWidth": 1},
    "axis": {"domain": false, "grid": false, "tickColor": "black", "tickSize": 3.5, "tickWidth": 0.8, "labelFont": "DejaVu Sans", "labelFontSize": 10, "labelColor": "#222", "labelPadding": 3, "labelFlush": false, "labelOverlap": false, "titleFont": "DejaVu Sans", "titleFontSize": 10, "titleFontWeight": "normal", "titleColor": "#222", "titlePadding": 3},
    "title": {"font": "DejaVu Sans", "fontSize": 12, "fontWeight": "normal", "color": "#111", "offset": 5}
  }
}
